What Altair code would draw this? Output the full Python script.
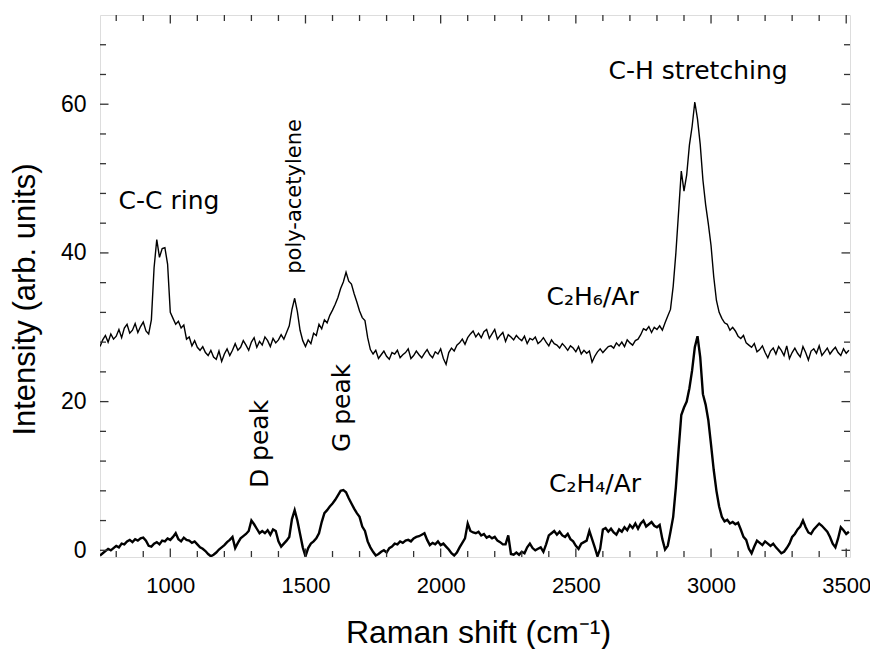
import altair as alt
import pandas as pd

# Raman shift sampling grid (cm^-1)
shift = list(range(740, 3511, 10))

# C2H6/Ar spectrum (upper trace)
c2h6 = [
    27.4, 28.3, 28.9, 28.0, 29.1, 28.4, 28.8, 29.7, 28.6, 29.9,
    30.4, 29.2, 29.6, 30.5, 29.3, 30.1, 30.7, 29.5, 29.1, 31.0,
    38.0, 41.8, 39.4, 40.6, 40.7, 38.5, 32.0, 31.2, 30.4, 30.8,
    29.9, 30.3, 28.4, 28.7, 27.5, 28.2, 27.3, 26.9, 27.4, 26.6,
    26.2, 26.9, 26.0, 25.7, 26.8, 25.4, 26.4, 27.1, 26.2, 26.9,
    27.8, 26.9, 27.3, 28.2, 27.6, 26.9, 28.0, 28.6, 27.3, 28.1,
    27.6, 28.7, 28.2, 27.4, 28.5, 27.9, 28.3, 29.0, 28.4, 29.3,
    30.2, 32.4, 33.9, 32.1, 29.6, 28.2, 27.4, 28.3, 27.8, 29.2,
    28.9, 30.4, 29.8, 31.0, 30.6, 31.6, 32.3, 33.1, 34.0, 35.2,
    36.1, 37.4, 36.2, 35.8, 34.5, 33.4, 32.2, 31.3, 30.9, 28.6,
    27.0, 26.4, 26.9, 25.8, 26.3, 26.8, 26.1, 25.7, 26.6, 26.4,
    26.9, 25.9, 26.3, 26.6, 27.1, 25.8, 26.2, 26.8, 26.3, 25.9,
    26.5, 27.0, 26.3, 25.9, 26.7, 26.4, 27.1, 25.8, 25.0, 26.6,
    27.2, 26.8, 27.6, 27.9, 28.4, 27.7, 28.6, 29.1, 29.5, 28.7,
    29.2, 28.6, 29.4, 29.7, 28.5, 29.1, 29.7, 28.4, 28.9, 29.3,
    28.1, 29.0, 28.7, 28.3, 28.9, 28.5, 28.2, 28.8, 27.8, 28.5,
    28.3, 28.7, 27.8, 28.1, 28.6, 28.0, 27.5, 28.3, 27.8, 27.6,
    27.2, 27.8, 27.4, 26.9, 27.5, 27.2, 26.7, 27.4, 26.4, 26.9,
    26.5, 26.8, 25.3, 26.1, 26.7, 27.1, 26.6, 27.0, 27.4, 27.5,
    27.2, 27.9, 27.5, 28.0, 27.4, 28.3, 27.9, 27.6, 28.2, 28.4,
    29.0, 29.8, 29.6, 30.1, 29.3, 30.0, 29.7, 30.2, 29.6, 30.6,
    31.5, 32.4, 35.5, 40.0, 45.5, 51.0, 48.3, 50.5, 54.5, 57.0,
    60.3, 58.0, 54.6, 49.8, 46.5, 43.9, 41.0, 36.8, 33.6, 32.0,
    31.2, 30.6, 30.4, 29.6, 30.0, 29.5, 28.8, 28.5, 28.9, 27.9,
    27.6, 27.3, 27.8, 26.7, 27.0, 27.5, 26.6, 25.9, 26.8, 27.2,
    26.4, 27.4, 26.9, 26.2, 27.5, 25.8, 26.6, 27.2, 26.5, 26.0,
    27.4, 26.6, 25.6, 26.8, 27.1, 26.5, 27.5, 26.2, 26.7, 27.2,
    26.4, 26.9, 27.3, 26.6, 26.2, 27.1, 26.5, 26.9,
]

# C2H4/Ar spectrum (lower trace)
c2h4 = [
    -0.7, -0.4, -0.1, 0.2, 0.0, 0.3, 0.6, 0.4, 0.9, 0.8,
    1.2, 1.4, 1.1, 1.5, 1.3, 1.6, 1.7, 1.3, 0.6, 0.5,
    0.9, 1.1, 0.8, 1.3, 1.2, 1.6, 1.4, 1.8, 2.3, 1.5,
    1.2, 1.7, 1.4, 1.3, 1.0, 1.2, 0.8, 0.4, 0.2, -0.1,
    -0.5, -0.8, -0.6, -0.3, 0.1, 0.4, 0.7, 1.1, 1.4, 1.8,
    0.3, 1.0, 1.6, 1.9, 2.2, 2.6, 4.0, 3.5, 2.9, 2.3,
    2.6, 2.3, 2.7, 2.1, 2.8, 2.6, 1.2, 0.5, 0.9, 1.3,
    1.8, 4.2, 5.4, 4.0, 2.2, 0.4, -0.8, 0.3, 0.9, 1.2,
    1.6, 2.3, 3.8, 5.0, 5.4, 5.9, 6.3, 6.8, 7.4, 8.0,
    8.1, 7.8, 7.0, 6.3, 5.6, 5.0, 4.5, 3.2, 2.6, 1.2,
    0.4, -0.2, -0.7, -0.5, -0.2, 0.0, -0.3, 0.3, 0.5, 0.9,
    0.8, 1.2, 1.0, 1.3, 1.4, 1.2, 1.6, 1.8, 1.9, 2.1,
    2.3, 1.4, 0.7, 1.0, 0.8, 1.2, 0.7, 0.9, 0.5, 0.1,
    -0.4, -0.7, -0.3, 0.4, 1.0, 1.6, 3.6, 2.6, 2.4, 2.3,
    2.5, 2.0, 2.2, 1.7, 1.9, 1.6, 1.8, 1.3, 1.1, 0.8,
    0.8, 2.0, -0.5, -0.6, -0.3, -0.6, -0.2, -0.4, 0.4, 0.9,
    0.3, 0.0, 0.2, 0.4, -0.2, 0.8, 2.0, 2.3, 2.6, 2.1,
    2.5, 2.0, 1.8, 2.2, 1.5, 1.2, 0.6, 0.2, 0.9, 1.1,
    1.3, 2.6, 1.5, 0.4, -0.8, 0.2, 2.8, 3.0, 2.5, 2.9,
    2.4, 2.1, 2.8, 2.5, 3.1, 2.7, 3.4, 3.0, 3.6, 2.9,
    3.6, 4.0, 3.2, 3.5, 3.8, 3.3, 3.1, 3.4, 1.5, 0.1,
    0.6, 2.5, 4.5, 8.5, 13.5, 18.2, 19.2, 20.0, 21.8, 24.2,
    27.3, 28.8, 26.0, 21.0, 19.6, 17.5, 14.2, 10.8, 8.0, 5.9,
    4.5, 3.9, 4.1, 3.6, 3.8, 3.5, 3.7, 2.8, 1.8, 1.4,
    0.2, -0.4, 0.5, 1.3, 1.0, 0.7, 1.2, 0.9, 0.6, 0.9,
    0.4, 0.0, -0.4, -0.2, 0.3, 0.9, 1.8, 2.2, 2.8, 3.2,
    4.0, 3.1, 2.4, 2.2, 2.8, 3.2, 3.6, 3.3, 2.9, 2.5,
    1.8, 0.9, 0.4, 1.6, 3.1, 2.7, 2.2, 2.5,
]

x_major = [1000, 1500, 2000, 2500, 3000, 3500]
x_minor = [800, 900, 1100, 1200, 1300, 1400, 1600, 1700, 1800, 1900,
           2100, 2200, 2300, 2400, 2600, 2700, 2800, 2900,
           3100, 3200, 3300, 3400]
y_major = [0, 20, 40, 60]
y_minor = [4, 8, 12, 16, 24, 28, 32, 36, 44, 48, 52, 56, 64, 68]

h_labels = ["C-C ring", "C-H stretching", "C\u2082H\u2086/Ar", "C\u2082H\u2084/Ar"]
h_x = [995, 2952, 2562, 2571]
h_y = [45.85, 63.4, 33.0, 7.86]

v_labels = ["D peak", "G peak"]
v_x = [1331, 1634]
v_y = [14.3, 19.15]

p_labels = ["poly-acetylene"]
p_x = [1460]
p_y = [47.6]

W, H = 750, 542
MAJ, MIN = 8.5, 6
TICK_COLOR = "#333333"

xs = alt.Scale(domain=[740, 3514], nice=False, zero=False)
ys = alt.Scale(domain=[-0.9, 72], nice=False, zero=False)

spec = pd.DataFrame({"shift": shift, "c2h6": c2h6, "c2h4": c2h4})

x_axis = alt.Axis(
    values=x_major, format="d", ticks=False, tickSize=0, domain=False, grid=False,
    labelFont="Liberation Sans", labelFontSize=22, labelColor="black", labelPadding=18,
    title="Raman shift (cm\u207b\u00b9)", titleFont="Liberation Sans", titleFontSize=32,
    titleFontWeight="normal", titleColor="black", titleX=378, titleY=85,
    titleBaseline="alphabetic", titleAlign="center",
)
y_axis = alt.Axis(
    values=y_major, format="d", ticks=False, tickSize=0, domain=False, grid=False,
    labelFont="Liberation Sans", labelFontSize=23, labelColor="black", labelPadding=14,
    title="Intensity (arb. units)", titleFont="Liberation Sans", titleFontSize=31,
    titleFontWeight="normal", titleColor="black", titleX=-66, titleY=284,
    titleAngle=270, titleBaseline="alphabetic", titleAlign="center",
)


def X(field):
    return alt.X(field, scale=xs, axis=x_axis)


def Y(field):
    return alt.Y(field, scale=ys, axis=y_axis)


upper = alt.Chart(spec).mark_line(color="black", strokeWidth=1.4, clip=True).encode(
    x=X("shift:Q"), y=Y("c2h6:Q"),
)
lower = alt.Chart(spec).mark_line(color="black", strokeWidth=2.4, clip=True).encode(
    x=X("shift:Q"), y=Y("c2h4:Q"),
)


def xticks(vals, length, top):
    df = pd.DataFrame({"v": vals})
    y0 = 0 if top else H
    y1 = length if top else H - length
    return alt.Chart(df).mark_rule(color=TICK_COLOR, strokeWidth=1.3).encode(
        x=X("v:Q"), y=alt.value(y0), y2=alt.value(y1))


def yticks(vals, length, right):
    df = pd.DataFrame({"v": vals})
    x0 = W if right else 0
    x1 = W - length if right else length
    return alt.Chart(df).mark_rule(color=TICK_COLOR, strokeWidth=1.3).encode(
        y=Y("v:Q"), x=alt.value(x0), x2=alt.value(x1))


tick_layers = [
    xticks(x_major, MAJ, False), xticks(x_minor, MIN, False),
    xticks(x_major, MAJ, True), xticks(x_minor, MIN, True),
    yticks(y_major, MAJ, False), yticks(y_minor, MIN, False),
    yticks(y_major, MAJ, True), yticks(y_minor, MIN, True),
]

hdf = pd.DataFrame({"t": h_labels, "x": h_x, "y": h_y})
vdf = pd.DataFrame({"t": v_labels, "x": v_x, "y": v_y})
pdf = pd.DataFrame({"t": p_labels, "x": p_x, "y": p_y})

htext = alt.Chart(hdf).mark_text(
    font="DejaVu Sans", fontSize=25, color="black", align="center", baseline="alphabetic"
).encode(x=X("x:Q"), y=Y("y:Q"), text="t:N")

vtext = alt.Chart(vdf).mark_text(
    font="DejaVu Sans", fontSize=25, color="black", align="center", baseline="middle", angle=270
).encode(x=X("x:Q"), y=Y("y:Q"), text="t:N")

ptext = alt.Chart(pdf).mark_text(
    font="DejaVu Sans", fontSize=21, color="black", align="center", baseline="middle", angle=270
).encode(x=X("x:Q"), y=Y("y:Q"), text="t:N")

chart = alt.layer(upper, lower, *tick_layers, htext, vtext, ptext).properties(
    width=W, height=H,
    padding={"left": 92, "top": 7, "right": 20, "bottom": 92},
    autosize=alt.AutoSizeParams(type="none"),
).configure_view(stroke="#333333", strokeWidth=1.5).configure(background="white")

chart.save("out.html", embed_options={"renderer": "svg", "actions": False})
